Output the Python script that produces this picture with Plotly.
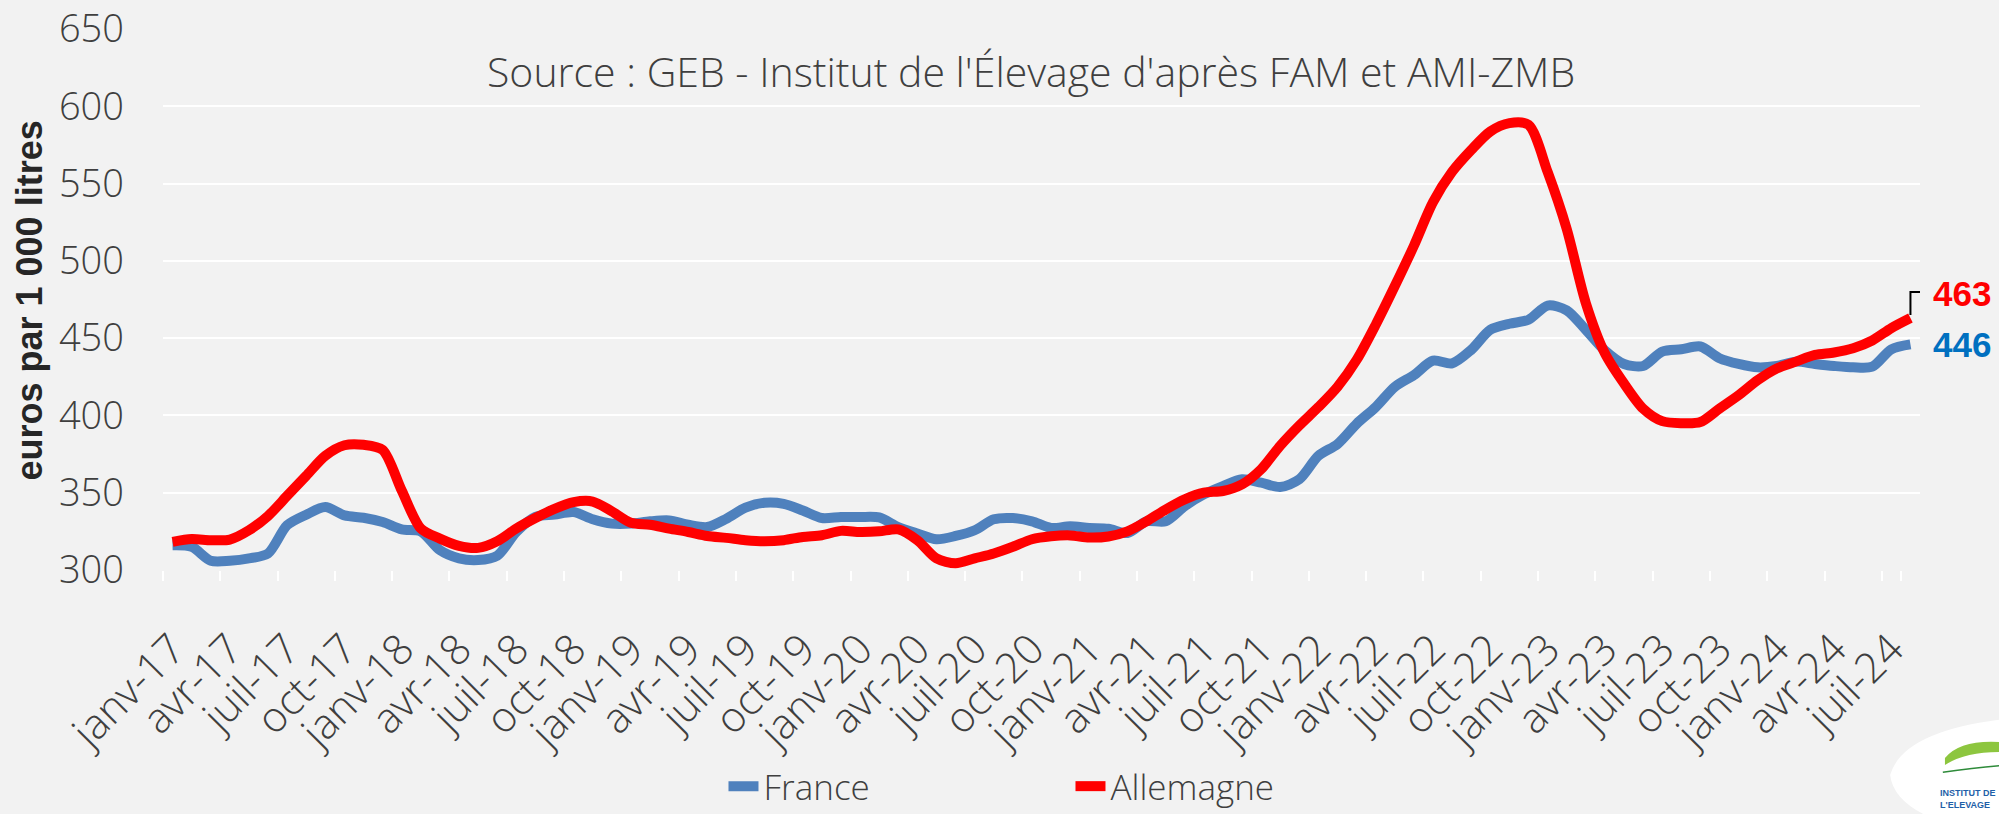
import plotly.graph_objects as go

# ---- data ----
mois = ["janv", "févr", "mars", "avr", "mai", "juin", "juil", "août", "sept", "oct", "nov", "déc"]
annees = ["17", "18", "19", "20", "21", "22", "23", "24"]
categories = [f"{m}-{a}" for a in annees for m in mois][:92]   # janv-17 .. août-24

france = [316, 315, 306, 306, 307.5, 310.7, 329, 335.8, 340.7, 335.3, 333.8, 331,
          326.3, 325, 312.8, 307.5, 306.4, 309.2, 324.6, 334.3, 335.8, 337.5, 332.8, 330,
          330, 331.5, 332.1, 329.3, 327.8, 333.2, 340.3, 343.5, 342.8, 338.5, 333.6, 334.3,
          334.3, 334, 327.8, 323.6, 319.9, 322, 325.7, 332.8, 333.6, 331.5, 327.2,
          328.3, 327.2, 326.7, 323.9, 331.5, 331.5, 341.3, 348.9, 354.3, 358.7, 356.5, 353.7,
          358.7, 373.9, 381.5, 394.6, 405.4, 418.5, 426.1, 435.4, 433.7, 442.4, 455.4,
          459.3, 461.9, 471.1, 468, 455.4, 442, 433.3, 432, 441.3, 442.8, 444.6, 437,
          433.3, 431.1, 432, 434.8, 433.3, 432, 431.1, 431.5, 442.8, 446]

allemagne = [318.2, 320, 319.3, 319.7, 325.7, 335, 348, 361, 373.9, 380.7, 381, 377.7,
             351.4, 326.8, 320.3, 315.6, 314.3, 318.6, 326.8, 333.6, 339.6, 343.9, 344.3, 338,
             330.6, 329.3, 326.8, 324.6, 322, 320.8, 319.3, 318.6, 319.3, 321.4, 322.5, 325.3,
             324.6, 325, 326.3, 319.3, 307.5, 304.3, 307.5, 310.7, 315, 319.9, 321.8,
             322.4, 321, 321.7, 325, 331.5, 339.1, 345.7, 350, 351.1, 355.4, 365.2, 380.4,
             393.5, 405.4, 418.5, 435.9, 458.7, 483.7, 509.8, 538, 557.6, 571.7, 583.7,
             589.1, 588, 557.6, 520.7, 472.8, 440.2, 420.7, 404.4, 396.3, 395, 395.7, 404.4,
             413, 422.8, 430.4, 434.8, 439.1, 440.7, 443.5, 448.5, 456.5, 463]

tick_labels = categories[::3]
y_ticks = [300, 350, 400, 450, 500, 550, 600, 650]

FONT = "Open Sans"
BG = "#F2F2F2"
BLUE = "#4F81BD"
RED = "#FF0000"
TXT = "#3F3F3F"

fig = go.Figure()
fig.add_trace(go.Scatter(x=categories, y=france, name="France", mode="lines",
                         line=dict(color=BLUE, width=10, shape="spline", smoothing=0.8)))
fig.add_trace(go.Scatter(x=categories, y=allemagne, name="Allemagne", mode="lines",
                         line=dict(color=RED, width=10, shape="spline", smoothing=0.8)))

last = len(categories) - 1

# end labels
fig.add_annotation(x=last, y=allemagne[-1], xref="x", yref="y", text=f"<b>{allemagne[-1]:.0f}</b>",
                   showarrow=False, xanchor="left", yanchor="middle", xshift=21, yshift=25,
                   font=dict(family="Liberation Sans", size=35, color=RED))
fig.add_annotation(x=last, y=france[-1], xref="x", yref="y", text=f"<b>{france[-1]:.0f}</b>",
                   showarrow=False, xanchor="left", yanchor="middle", xshift=21, yshift=0,
                   font=dict(family="Liberation Sans", size=35, color="#0070C0"))
# leader line for 463
fig.add_shape(type="path", xref="x", yref="y", xsizemode="pixel", ysizemode="pixel",
              xanchor=last, yanchor=allemagne[-1], path="M 0 3 L 0 26 L 12 26",
              line=dict(color="black", width=2))

# source text
fig.add_annotation(x=0.494, y=0.922, xref="paper", yref="paper",
                   text="Source : GEB - Institut de l'Élevage d'après FAM et AMI-ZMB",
                   showarrow=False, xanchor="center", yanchor="middle",
                   font=dict(family=FONT, size=41, color=TXT, weight=300))
# y axis title
fig.add_annotation(x=-0.076, y=0.499, xref="paper", yref="paper",
                   text="<b>euros par 1 000 litres</b>", textangle=-90,
                   showarrow=False, xanchor="center", yanchor="middle",
                   font=dict(family="Liberation Sans", size=36, color="#262626"))

# logo (bottom-right, partly cut by the page edge)
fig.add_shape(type="path", xref="paper", yref="paper", layer="above",
              path="M 0.983 -0.379 Q 0.99 -0.30 1.045 -0.277 L 1.045 -0.46 L 1.008 -0.46 "
                   "Q 0.985 -0.43 0.983 -0.379 Z",
              fillcolor="white", line=dict(width=0))
fig.add_shape(type="path", xref="paper", yref="paper", layer="above",
              path="M 1.0142 -0.3475 Q 1.0228 -0.314 1.045 -0.318 L 1.045 -0.3364 "
                   "Q 1.0256 -0.3364 1.0142 -0.3604 Z",
              fillcolor="#8DC63F", line=dict(width=0))
fig.add_shape(type="path", xref="paper", yref="paper", layer="above",
              path="M 1.013 -0.374 Q 1.03 -0.366 1.045 -0.362",
              line=dict(color="#2E8B3A", width=1.5))
fig.add_annotation(x=1.0102, y=-0.423, xref="paper", yref="paper", xanchor="left", yanchor="middle",
                   text="<b>INSTITUT DE<br>L'ELEVAGE</b>", showarrow=False, align="left",
                   font=dict(family="Liberation Sans Narrow, Liberation Sans", size=9, color="#1F5FA8"))

fig.update_layout(
    width=1999, height=814,
    paper_bgcolor=BG, plot_bgcolor=BG,
    margin=dict(l=163, r=79, t=29, b=244, autoexpand=False),
    showlegend=True,
    legend=dict(orientation="h", x=0.319, xanchor="left", y=-0.400, yanchor="middle",
                entrywidth=302, entrywidthmode="pixels", bgcolor="rgba(0,0,0,0)",
                font=dict(family=FONT, size=35, color=TXT, weight=300)),
    font=dict(family=FONT, color=TXT),
)
fig.update_xaxes(type="category", tickmode="array", tickvals=tick_labels, ticktext=tick_labels,
                 tickangle=-45, tickson="boundaries", ticks="outside", ticklen=10, tickwidth=2,
                 tickcolor="white", showgrid=False, showline=False, zeroline=False,
                 ticklabelstandoff=45, automargin=False,
                 tickfont=dict(family=FONT, size=42, color=TXT, weight=300),
                 range=[-0.5, last + 0.5])
fig.update_yaxes(range=[300, 650], tickvals=y_ticks, showgrid=True, gridcolor="white", gridwidth=2,
                 zeroline=False, showline=False, ticks="", ticklabelstandoff=38, automargin=False,
                 tickfont=dict(family=FONT, size=38, color=TXT, weight=300))

fig.write_html("out.html", config={"displayModeBar": False},
               post_script="document.body.style.margin='0';document.body.style.background='#F2F2F2';")
